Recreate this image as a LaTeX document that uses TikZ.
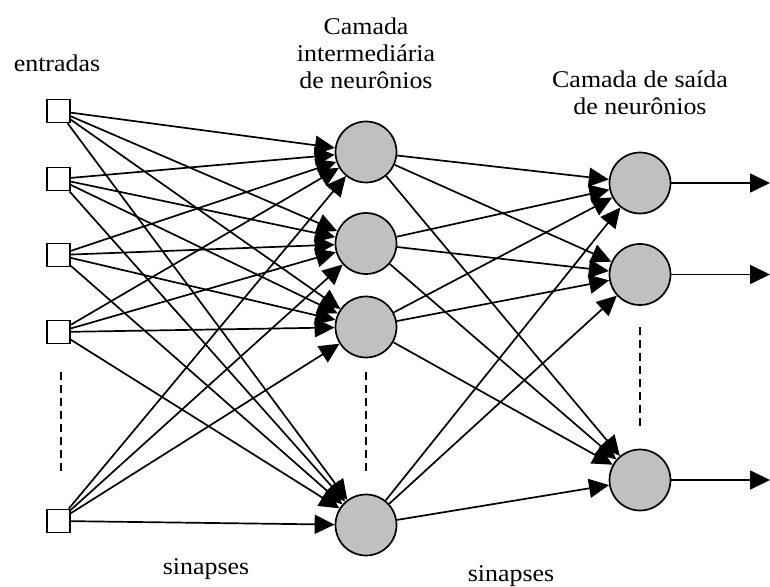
\documentclass[tikz,border=0pt]{standalone}
\usepackage{fontspec}
\setmainfont[FakeStretch=1.08]{Liberation Serif}
\usetikzlibrary{arrows.meta}
\usepackage{xcolor}
\definecolor{neurongray}{RGB}{192,192,192}

\tikzset{
  entrada/.style={draw, line width=0.85pt, minimum size=11.5pt, inner sep=0pt},
  neuronio/.style={draw, circle, fill=neurongray, line width=0.85pt, minimum size=30.5pt, inner sep=0pt},
  sinapse/.style={line width=0.85pt, -{Triangle[length=10pt,width=9.5pt]}},
  tracejado/.style={line width=0.85pt, dash pattern=on 4pt off 2.5pt},
  rotulo/.style={font=\fontsize{12}{13.5}\selectfont, align=center, inner sep=0pt}
}

\begin{document}
\begin{tikzpicture}[x=0.5pt,y=-0.5pt]%[inner sep=0pt]
\useasboundingbox (0,0) rectangle (770,587);

% entradas
\node [entrada] (i1) at (58.5,111) {};
\node [entrada] (i2) at (58.5,179) {};
\node [entrada] (i3) at (58.5,255) {};
\node [entrada] (i4) at (58.5,332) {};
\node [entrada] (i5) at (58.5,521) {};
\draw [tracejado] (61,372) -- (61,475);

% camada intermediaria
\node [neuronio] (h1) at (366,152) {};
\node [neuronio] (h2) at (366,243.5) {};
\node [neuronio] (h3) at (366,327) {};
\node [neuronio] (h4) at (366,525) {};
\draw [tracejado] (366,372) -- (366,475);

% camada de saida
\node [neuronio] (o1) at (640,183) {};
\node [neuronio] (o2) at (640,274.5) {};
\node [neuronio] (o3) at (640,480) {};
\draw [tracejado] (640,327) -- (640,430);
\coordinate (s1) at (770,183);
\coordinate (s2) at (770,274.5);
\coordinate (s3) at (770,480);

%\draw [sinapse] (i1) -- (h1); ... one line per pair, no loop
\draw [sinapse] (i1) -- (h1);
\draw [sinapse] (i1) -- (h2);
\draw [sinapse] (i1) -- (h3);
\draw [sinapse] (i1) -- (h4);
\draw [sinapse] (i2) -- (h1);
\draw [sinapse] (i2) -- (h2);
\draw [sinapse] (i2) -- (h3);
\draw [sinapse] (i2) -- (h4);
\draw [sinapse] (i3) -- (h1);
\draw [sinapse] (i3) -- (h2);
\draw [sinapse] (i3) -- (h3);
\draw [sinapse] (i3) -- (h4);
\draw [sinapse] (i4) -- (h1);
\draw [sinapse] (i4) -- (h2);
\draw [sinapse] (i4) -- (h3);
\draw [sinapse] (i4) -- (h4);
\draw [sinapse] (i5) -- (h1);
\draw [sinapse] (i5) -- (h2);
\draw [sinapse] (i5) -- (h3);
\draw [sinapse] (i5) -- (h4);

\draw [sinapse] (h1) -- (o1);
\draw [sinapse] (h1) -- (o2);
\draw [sinapse] (h1) -- (o3);
\draw [sinapse] (h2) -- (o1);
\draw [sinapse] (h2) -- (o2);
\draw [sinapse] (h2) -- (o3);
\draw [sinapse] (h3) -- (o1);
\draw [sinapse] (h3) -- (o2);
\draw [sinapse] (h3) -- (o3);
\draw [sinapse] (h4) -- (o1);
\draw [sinapse] (h4) -- (o2);
\draw [sinapse] (h4) -- (o3);

\draw [sinapse] (o1) -- (s1);
\draw [sinapse] (o2) -- (s2);
\draw [sinapse] (o3) -- (s3);

% textos
\node [rotulo] (t1) at (57,63) {entradas};
\node [rotulo] (t2) at (366,53) {Camada\\intermediária\\de neurônios};
\node [rotulo] (t3) at (640,93) {Camada de saída\\de neurônios};
\node [rotulo] (t4) at (206,569) {sinapses};
\node [rotulo] (t5) at (511,576) {sinapses};
\end{tikzpicture}
\end{document}
